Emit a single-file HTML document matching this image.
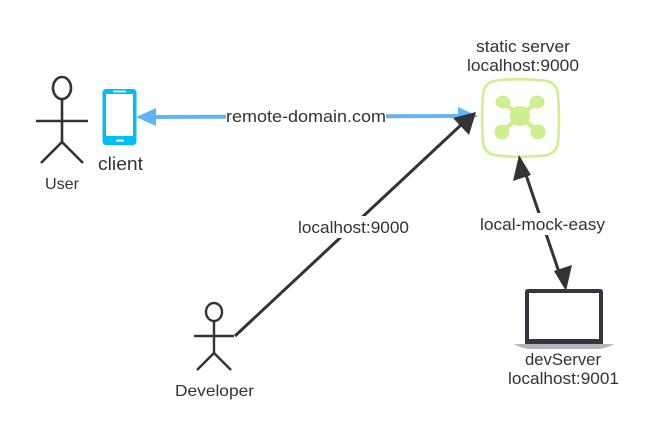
<!DOCTYPE html>
<html>
<head>
<meta charset="utf-8">
<style>
html,body{margin:0;padding:0;background:#fff;width:663px;height:427px;overflow:hidden}
svg{display:block}
text{font-family:"Liberation Sans",sans-serif;fill:#333;font-size:17px}
</style>
</head>
<body>
<svg width="663" height="427" viewBox="0 0 663 427" xmlns="http://www.w3.org/2000/svg">
<!-- User -->
<g fill="none" stroke="#333" stroke-width="2.6">
<ellipse cx="62" cy="88" rx="9" ry="11"/>
<path d="M62 99V142M36 121H88M41 163L62 142L83 163"/>
</g>
<text x="45" y="189" textLength="34" lengthAdjust="spacingAndGlyphs" style="font-size:16px">User</text>
<!-- Phone -->
<rect x="102.5" y="89" width="34" height="56" rx="3.500" fill="#00bdf2"/>
<rect x="106" y="94" width="27" height="42" fill="#fff"/>
<rect x="113" y="90.6" width="13" height="1.8" rx="0.9" fill="#fff"/>
<rect x="116" y="139.5" width="8" height="2.2" rx="1.1" fill="#fff"/>
<text x="98" y="170" textLength="45" lengthAdjust="spacingAndGlyphs" style="font-size:18px">client</text>
<!-- Blue connector -->
<path d="M150 117L470 116" stroke="#61b4f6" stroke-width="4" fill="none"/>
<path d="M136 117L156 108V126Z" fill="#61b4f6"/>
<path d="M478 116L458 107V125Z" fill="#61b4f6"/>
<rect x="226" y="106" width="160" height="22" fill="#fff"/>
<text x="226" y="122" textLength="160" lengthAdjust="spacingAndGlyphs">remote-domain.com</text>
<!-- Server -->
<text x="476" y="52" textLength="94" lengthAdjust="spacingAndGlyphs">static server</text>
<text x="467" y="71" textLength="112" lengthAdjust="spacingAndGlyphs">localhost:9000</text>
<path d="M497 80.5Q520 78 544 80.5Q557 82 558 95Q560 118 558 142Q557 154 544 155.500Q520 158 497 155.500Q484 154 483 142Q481 118 483 95Q484 82 497 80.500Z" fill="#fff" stroke="#cdef8d" stroke-width="2.6"/>
<g fill="#cdef8d" stroke="#cdef8d">
<path d="M503 102L520 116L537 102M502 132L520 116L538 132" fill="none" stroke-width="4.500"/>
<circle cx="520" cy="116" r="10" stroke="none"/>
<ellipse cx="503" cy="102" rx="7.500" ry="6.500" stroke="none"/>
<ellipse cx="537" cy="102" rx="7.500" ry="6.500" stroke="none"/>
<circle cx="502" cy="132" r="7.500" stroke="none"/>
<circle cx="538" cy="132" r="7.500" stroke="none"/>
</g>
<!-- Developer -->
<g fill="none" stroke="#333" stroke-width="2.4">
<ellipse cx="214" cy="312" rx="8" ry="9"/>
<path d="M214 321V353M194 336H234M197 370L214 353L231 370"/>
</g>
<text x="175" y="396" textLength="79" lengthAdjust="spacingAndGlyphs" style="font-size:16px">Developer</text>
<!-- Developer line -->
<path d="M235 336L462 124" stroke="#333" stroke-width="3" fill="none"/>
<path d="M476 112L469 135L453 118Z" fill="#333"/>
<rect x="298" y="216" width="111" height="22" fill="#fff"/>
<text x="298" y="233" textLength="111" lengthAdjust="spacingAndGlyphs">localhost:9000</text>
<!-- Server-laptop connector -->
<path d="M525 172L560 275" stroke="#333" stroke-width="3" fill="none"/>
<path d="M519 155L531 175L513 181Z" fill="#333"/>
<path d="M566 291L554 271L572 265Z" fill="#333"/>
<rect x="480" y="213" width="125" height="22" fill="#fff"/>
<text x="480" y="230" textLength="125" lengthAdjust="spacingAndGlyphs">local-mock-easy</text>
<!-- Laptop -->
<path d="M528 289H600Q603 289 603 292V344H525V292Q525 289 528 289Z" fill="#33363f"/>
<rect x="529" y="293" width="70" height="46" fill="#fff"/>
<path d="M514 344H614Q606 349 596 349H532Q522 349 514 344Z" fill="#b4b6b6"/>
<text x="525" y="365" textLength="76" lengthAdjust="spacingAndGlyphs">devServer</text>
<text x="508" y="384" textLength="111" lengthAdjust="spacingAndGlyphs">localhost:9001</text>
</svg>
</body>
</html>
